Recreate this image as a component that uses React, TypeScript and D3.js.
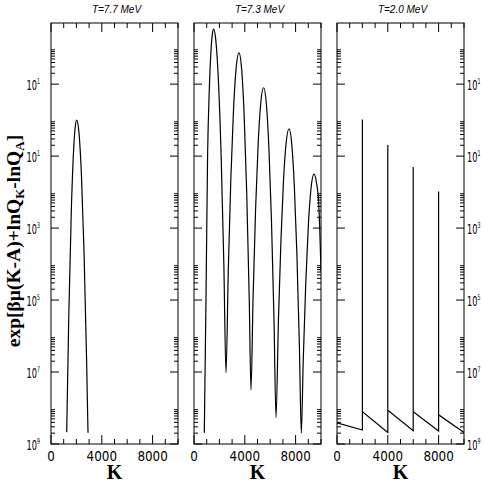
import React from "react";
import * as d3 from "d3";

// ---------- data ----------
const panelTitles = ["T=7.7 MeV", "T=7.3 MeV", "T=2.0 MeV"];

// T = 7.7 MeV : K values and log10 of the plotted quantity
const kT77 = [1236, 1400, 1600, 1800, 1900, 2024, 2200, 2400, 2600, 2800, 2913];
const logT77 = [-8.67, -5.45, -2.52, -0.7, -0.22, 0, -0.34, -1.56, -3.65, -6.62, -8.69];

// T = 7.3 MeV
const kT73 = [
  811, 950, 1070, 1200, 1350, 1450, 1543, 1700, 1900, 2150, 2350, 2520,
  2700, 2900, 3100, 3300, 3543, 3750, 3950, 4150, 4350, 4488,
  4650, 4850, 5050, 5250, 5480, 5700, 5900, 6100, 6300, 6457,
  6650, 6850, 7050, 7250, 7480, 7700, 7900, 8100, 8300, 8449,
  8600, 8800, 9000, 9200, 9449, 9650, 9800, 9900, 10000,
];
const logT73 = [
  -8.69, -4.8, -1.0, 0.8, 2.0, 2.4, 2.53, 2.28, 1.26, -1.15, -4.0, -7.02,
  -4.17, -1.64, 0.2, 1.37, 1.87, 1.42, 0.13, -2.0, -4.97, -7.5,
  -4.96, -2.47, -0.67, 0.45, 0.9, 0.44, -0.79, -2.79, -5.55, -8.27,
  -5.54, -3.3, -1.66, -0.65, -0.24, -0.68, -1.83, -3.7, -6.29, -8.7,
  -6.69, -4.53, -2.95, -1.95, -1.5, -1.75, -2.2, -3.0, -4.2,
];

// T = 2.0 MeV (sawtooth with spikes)
const kT20 = [0, 2000, 2000, 2000, 4000, 4000, 4000, 6000, 6000, 6000, 8000, 8000, 8000, 10000];
const logT20 = [-8.41, -8.61, 0.02, -8.1, -8.68, -0.69, -8.06, -8.63, -1.3, -8.1, -8.64, -1.98, -8.19, -8.68];

// axes
const xDomain = [0, 10000];
const yDomain = [1e-9, 500];
const xMajorTicks = [0, 4000, 8000];
const xMinorTicks = [1000, 2000, 3000, 5000, 6000, 7000, 9000, 10000];
const yMajorExps = [1, -1, -3, -5, -7, -9];
const yTickSupLabels = ["1", "1", "3", "5", "7", "9"];
const minorMultipliers = [2, 3, 4, 5, 6, 7, 8, 9];

const seriesK = [kT77, kT73, kT20];
const seriesLog = [logT77, logT73, logT20];

// ---------- layout ----------
const W = 484;
const H = 485;
const panelLeft = [51, 194, 337];
const panelW = 127;
const top = 23;
const bottom = 444;

const sansNarrow = "'Liberation Sans Narrow','DejaVu Sans Condensed','Arial Narrow',sans-serif";
const sans = "'Liberation Sans',Arial,Helvetica,sans-serif";
const serif = "'Liberation Serif','Times New Roman',serif";

function YLabel({ x, y, sup, anchor }: { x: number; y: number; sup: string; anchor: string }) {
  return (
    <text
      transform={`translate(${x},${y}) scale(0.65,1)`}
      textAnchor={anchor}
      fontFamily={sansNarrow}
      fontSize={14}
      fill="#000"
    >
      10
      <tspan dy={-6} fontSize={8}>
        {sup}
      </tspan>
    </text>
  );
}

function Panel({ idx }: { idx: number }) {
  const x0 = panelLeft[idx];
  const x = d3.scaleLinear().domain(xDomain).range([x0, x0 + panelW]);
  const y = d3.scaleLog().domain(yDomain).range([bottom, top]);
  const pts: [number, number][] = seriesK[idx].map((k, i) => [k, Math.pow(10, seriesLog[idx][i])]);
  const line = d3
    .line<[number, number]>()
    .x((d) => x(d[0]))
    .y((d) => y(d[1]))
    .curve(idx === 2 ? d3.curveLinear : d3.curveMonotoneX);

  const yMinor: number[] = [];
  yMajorExps.forEach((e) => {
    minorMultipliers.forEach((m) => {
      const v = m * Math.pow(10, e);
      if (v < yDomain[1]) yMinor.push(v);
    });
  });

  const stroke = "#000";
  const xr = x0 + panelW;
  return (
    <g>
      <defs>
        <clipPath id={`clip${idx}`}>
          <rect x={x0} y={top - 1} width={panelW} height={bottom - top + 2} />
        </clipPath>
      </defs>
      <path d={line(pts) || ""} fill="none" stroke="#000" strokeWidth={1.2} clipPath={`url(#clip${idx})`} />
      <rect x={x0} y={top} width={panelW} height={bottom - top} fill="none" stroke={stroke} strokeWidth={1} />
      {/* x ticks */}
      {xMajorTicks.map((t) => (
        <g key={"xM" + t}>
          <line x1={x(t)} x2={x(t)} y1={bottom} y2={bottom - 9} stroke={stroke} />
          <line x1={x(t)} x2={x(t)} y1={top} y2={top + 9} stroke={stroke} />
          <text
            transform={`translate(${x(t)},461) scale(0.95,1)`}
            textAnchor="middle"
            fontFamily={sansNarrow}
            fontSize={14}
            fill="#000"
          >
            {t}
          </text>
        </g>
      ))}
      {xMinorTicks.map((t) => (
        <g key={"xm" + t}>
          <line x1={x(t)} x2={x(t)} y1={bottom} y2={bottom - 5} stroke={stroke} />
          <line x1={x(t)} x2={x(t)} y1={top} y2={top + 5} stroke={stroke} />
        </g>
      ))}
      {/* y ticks */}
      {yMajorExps.map((e, i) => {
        const yy = y(Math.pow(10, e));
        return (
          <g key={"yM" + e}>
            <line x1={x0} x2={x0 + 8} y1={yy} y2={yy} stroke={stroke} />
            <line x1={xr} x2={xr - 8} y1={yy} y2={yy} stroke={stroke} />
            {idx === 0 && <YLabel x={40} y={yy + 6} sup={yTickSupLabels[i]} anchor="end" />}
            {idx === 2 && <YLabel x={467} y={yy + 6} sup={yTickSupLabels[i]} anchor="start" />}
          </g>
        );
      })}
      {yMinor.map((v, i) => {
        const yy = y(v);
        return (
          <g key={"ym" + i}>
            <line x1={x0} x2={x0 + 4} y1={yy} y2={yy} stroke={stroke} />
            <line x1={xr} x2={xr - 4} y1={yy} y2={yy} stroke={stroke} />
          </g>
        );
      })}
      <text x={x0 + panelW / 2 + 2} y={12.5} textAnchor="middle" fontFamily={sans} fontStyle="italic" fontSize={10} fill="#000">
        {panelTitles[idx]}
      </text>
      <text x={x0 + panelW / 2} y={479} textAnchor="middle" fontFamily={serif} fontWeight="bold" fontSize={20} fill="#000">
        K
      </text>
    </g>
  );
}

export default function App() {
  return (
    <svg
      width={W}
      height={H}
      viewBox={`0 0 ${W} ${H}`}
      style={{ position: "absolute", left: 0, top: 0, background: "#fff" }}
    >
      <rect x={0} y={0} width={W} height={H} fill="#fff" />
      {[0, 1, 2].map((i) => (
        <Panel key={i} idx={i} />
      ))}
      <text
        transform="translate(20,241) rotate(-90)"
        textAnchor="middle"
        fontFamily={serif}
        fontWeight="bold"
        fontSize={19.5}
        fill="#000"
      >
        exp[βμ(K-A)+lnQ
        <tspan fontSize={13} dy={4}>K</tspan>
        <tspan dy={-4}>-lnQ</tspan>
        <tspan fontSize={13} dy={4}>A</tspan>
        <tspan dy={-4}>]</tspan>
      </text>
    </svg>
  );
}
